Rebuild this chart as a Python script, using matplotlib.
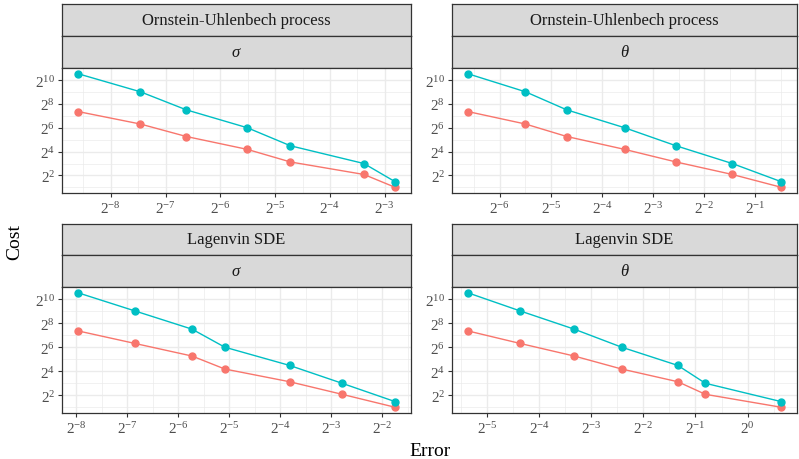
import numpy as np
import matplotlib
matplotlib.use("Agg")
import matplotlib.pyplot as plt
from matplotlib.ticker import FixedLocator, FuncFormatter, NullFormatter

plt.rcParams['font.family'] = ['Liberation Serif', 'DejaVu Serif']
plt.rcParams['mathtext.fontset'] = 'custom'
plt.rcParams['mathtext.rm'] = 'Liberation Serif'
plt.rcParams['mathtext.it'] = 'Liberation Serif:italic'

# log2 of cost, shared by every panel
cost_a = [10.55, 9.03, 7.51, 6.01, 4.49, 3.0, 1.47]   # cyan
cost_b = [7.37, 6.32, 5.27, 4.19, 3.13, 2.08, 1.0]    # red

# log2 of error per panel
err_ou_sigma = [-8.60, -7.46, -6.62, -5.51, -4.72, -3.38, -2.81]
err_ou_theta = [-6.63, -5.50, -4.69, -3.56, -2.55, -1.45, -0.49]
err_la_sigma = [-7.97, -6.85, -5.73, -5.09, -3.82, -2.79, -1.75]
err_la_theta = [-5.38, -4.37, -3.33, -2.42, -1.34, -0.81, 0.65]

panels = [
    ("Ornstein-Uhlenbech process", r"$\sigma$", err_ou_sigma),
    ("Ornstein-Uhlenbech process", r"$\theta$", err_ou_theta),
    ("Lagenvin SDE", r"$\sigma$", err_la_sigma),
    ("Lagenvin SDE", r"$\theta$", err_la_theta),
]

W, H = 799, 460
fig = plt.figure(figsize=(W / 100, H / 100), dpi=100)

def box(x0, y0, x1, y1):
    return [x0 / W, 1 - y1 / H, (x1 - x0) / W, (y1 - y0) / H]

cols = [(62, 411), (452, 797)]
rows = [(5, 37, 69, 194), (225, 256, 288, 414)]

red = '#F8766D'
cyan = '#00BFC4'

def fmt(v, p):
    e = int(round(np.log2(v)))
    return r'$2^{%d}$' % e if e >= 0 else r'$2^{\mathrm{-}%d}$' % (-e)

def fmt(v, p):
    e = int(round(np.log2(v)))
    return r'$2^{%s}$' % (str(e).replace('-', '\u2212'))

for i, (title, param, err) in enumerate(panels):
    x0, x1 = cols[i % 2]
    s0, s1, s2, p1 = rows[i // 2]
    for (a, b, txt) in [(s0, s1, title), (s1, s2, param)]:
        st = fig.add_axes(box(x0, a, x1, b))
        st.set_facecolor('#D9D9D9')
        st.set_xticks([])
        st.set_yticks([])
        for sp in st.spines.values():
            sp.set_color('#333333')
            sp.set_linewidth(0.9)
        st.text(0.5, 0.5, txt, ha='center', va='center', fontsize=12,
                color='#1A1A1A', transform=st.transAxes)

    ax = fig.add_axes(box(x0, s2, x1, p1))
    ex = 2.0 ** np.array(err)
    ax.plot(ex, 2.0 ** np.array(cost_b), color=red, lw=1.0, marker='o', ms=5, zorder=3)
    ax.plot(ex, 2.0 ** np.array(cost_a), color=cyan, lw=1.0, marker='o', ms=5, zorder=3)
    ax.set_xscale('log', base=2)
    ax.set_yscale('log', base=2)
    ax.margins(0.05)
    lo, hi = np.floor(min(err)) - 1, np.ceil(max(err)) + 1
    xmaj = np.arange(lo, hi + 1)
    ax.xaxis.set_major_locator(FixedLocator(2.0 ** xmaj))
    ax.xaxis.set_minor_locator(FixedLocator(2.0 ** (xmaj + 0.5)))
    ymaj = np.arange(0, 14, 2)
    ax.yaxis.set_major_locator(FixedLocator(2.0 ** ymaj))
    ax.yaxis.set_minor_locator(FixedLocator(2.0 ** (np.arange(-1, 14, 1.0))))
    ax.xaxis.set_major_formatter(FuncFormatter(fmt))
    ax.yaxis.set_major_formatter(FuncFormatter(fmt))
    ax.xaxis.set_minor_formatter(NullFormatter())
    ax.yaxis.set_minor_formatter(NullFormatter())
    ax.grid(which='major', color='#EBEBEB', lw=1.0)
    ax.grid(which='minor', color='#EBEBEB', lw=0.5)
    ax.set_axisbelow(True)
    ax.tick_params(which='major', length=3, width=0.8, color='#333333',
                   labelsize=11, labelcolor='#4D4D4D', pad=2)
    ax.tick_params(which='minor', length=0)
    for sp in ax.spines.values():
        sp.set_color('#333333')
        sp.set_linewidth(0.9)

fig.text(15 / W, 1 - 242 / H, 'Cost', rotation=90, ha='center', va='center',
         fontsize=14)
fig.text(430 / W, 1 - 452 / H, 'Error', ha='center', va='center', fontsize=14)

fig.savefig('out.png', dpi=100)
